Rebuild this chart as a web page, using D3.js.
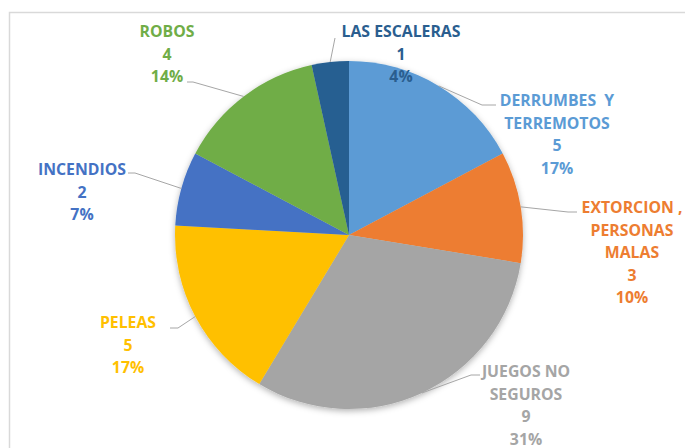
<!DOCTYPE html>
<html>
<head>
<meta charset="utf-8">
<script src="https://cdn.jsdelivr.net/npm/d3@7"></script>
<style>
  html, body { margin: 0; padding: 0; background: #fff; }
  svg { display: block; }
  text { font-family: "Open Sans", "Liberation Sans", sans-serif; font-weight: 700; white-space: pre; }
</style>
</head>
<body>
<svg id="chart" width="685" height="448"></svg>
<script>
// ---- data ----
const categories = ["DERRUMBES  Y TERREMOTOS", "EXTORCION , PERSONAS MALAS", "JUEGOS NO SEGUROS", "PELEAS", "INCENDIOS", "ROBOS", "LAS ESCALERAS"];
const categoryLines = [["DERRUMBES  Y", "TERREMOTOS"], ["EXTORCION ,", "PERSONAS", "MALAS"], ["JUEGOS NO", "SEGUROS"], ["PELEAS"], ["INCENDIOS"], ["ROBOS"], ["LAS ESCALERAS"]];
const values = [5, 3, 9, 5, 2, 4, 1];
const percentLabels = ["17%", "10%", "31%", "17%", "7%", "14%", "4%"];
const colors = ["#5B9BD5", "#ED7D31", "#A5A5A5", "#FFC000", "#4472C4", "#70AD47", "#255E91"];
const labelColors = ["#5B9BD5", "#ED7D31", "#A5A5A5", "#FFC000", "#4472C4", "#70AD47", "#2A5E8F"];

// ---- layout (label placement, leader elbows) ----
const cx = 349, cy = 235, R = 174;
const lineH = 22.6;
const labelPos = [
  {x: 557, y: 106}, {x: 632, y: 213}, {x: 526, y: 377}, {x: 128, y: 328},
  {x: 82, y: 175}, {x: 167, y: 37}, {x: 401, y: 37}
];
const leaderPts = [
  [[482, 105], [496, 105]],
  [[568, 212], [577, 212]],
  [[471, 375], [480, 375]],
  [[178, 328], [170, 328]],
  [[135, 173], [128, 173]],
  [[193, 82], [187, 82]],
  [[335, 38]]
];

const svg = d3.select("#chart");

// chart frame
svg.append("rect")
  .attr("x", 9.5).attr("y", 12.5)
  .attr("width", 700).attr("height", 500)
  .attr("fill", "#fff")
  .attr("stroke", "#D9D9D9").attr("stroke-width", 1.5);

const defs = svg.append("defs");
const f = defs.append("filter").attr("id", "shadow")
  .attr("x", "-20%").attr("y", "-20%").attr("width", "140%").attr("height", "140%");
f.append("feDropShadow").attr("dx", 0).attr("dy", 2).attr("stdDeviation", 3)
  .attr("flood-color", "#000").attr("flood-opacity", 0.3);

const pie = d3.pie().sort(null).value(d => d)(values);
const arc = d3.arc().innerRadius(0).outerRadius(R);

const g = svg.append("g").attr("transform", `translate(${cx},${cy})`);
g.append("g").attr("filter", "url(#shadow)")
  .selectAll("path").data(pie).join("path")
  .attr("d", arc)
  .attr("fill", (d, i) => colors[i]);

// leader lines
const line = d3.line();
pie.forEach((d, i) => {
  const mid = (d.startAngle + d.endAngle) / 2;
  const start = [cx + R * Math.sin(mid), cy - R * Math.cos(mid)];
  svg.append("path")
    .attr("d", line([start, ...leaderPts[i]]))
    .attr("fill", "none")
    .attr("stroke", "#A6A6A6")
    .attr("stroke-width", 1);
});

// labels
pie.forEach((d, i) => {
  const lines = [...categoryLines[i], String(values[i]), percentLabels[i]];
  const t = svg.append("text")
    .attr("text-anchor", "middle")
    .attr("fill", labelColors[i])
    .attr("font-size", 15.8);
  lines.forEach((s, k) => {
    t.append("tspan")
      .attr("x", labelPos[i].x)
      .attr("y", labelPos[i].y + k * lineH)
      .text(s);
  });
});
</script>
</body>
</html>
